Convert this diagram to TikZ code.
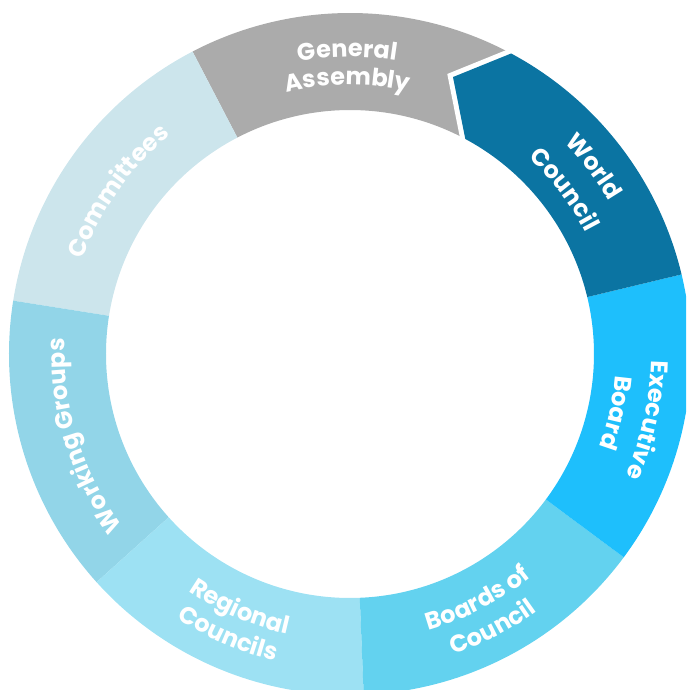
\documentclass[tikz,border=0pt]{standalone}
\usepackage{fontspec}
\setmainfont{Poppins}
\usetikzlibrary{decorations.text,calc}
\definecolor{cGA}{HTML}{ABABAB}
\definecolor{cWC}{HTML}{0B74A2}
\definecolor{cEB}{HTML}{1EBFFC}
\definecolor{cBC}{HTML}{63D2EF}
\definecolor{cRC}{HTML}{9DE1F3}
\definecolor{cWG}{HTML}{92D5E8}
\definecolor{cCM}{HTML}{CCE5EC}
\newcommand{\lblfmt}{\fontsize{24}{28}\selectfont\bfseries\color{white}}
% top label: reads clockwise, letters point outward
\newcommand{\toplbl}[3]{%
  \path[decorate,decoration={text along path,text align=center,text={|\lblfmt|#3}}]
    ({#1+45}:#2) arc[start angle={#1+45}, end angle={#1-45}, radius=#2];}
% bottom label: reads counter-clockwise, letters point inward
\newcommand{\botlbl}[3]{%
  \path[decorate,decoration={text along path,text align=center,text={|\lblfmt|#3}}]
    ({#1-45}:#2) arc[start angle={#1-45}, end angle={#1+45}, radius=#2];}
\newcommand{\ringseg}[3]{%
  \fill[#1] (#2:341) arc[start angle=#2, end angle=#3, radius=341]
    -- (#3:244) arc[start angle=#3, end angle=#2, radius=244] -- cycle;}
\begin{document}
\begin{tikzpicture}[x=1pt,y=1pt]
\useasboundingbox (-350,-336) rectangle (336,354);
\clip (-350,-336) rectangle (336,354);
% ring segments
\ringseg{cGA}{61.8}{117.5}
\ringseg{cCM}{117.5}{171}
\ringseg{cWG}{171}{222}
\ringseg{cRC}{222}{272.3}
\ringseg{cBC}{272.3}{323.4}
\ringseg{cEB}{323.4}{373.5}
% world council chevron
\coordinate (wcO) at (61.8:341);
\coordinate (wcT) at (69.6:295.5);
\coordinate (wcI) at (61.8:244);
\draw[white,line width=10pt,line join=miter]
  ($(wcO)!-0.25!(wcT)$) -- (wcT) -- ($(wcI)!-0.25!(wcT)$);
\fill[cWC] (wcO) arc[start angle=61.8, end angle=13.5, radius=341]
  -- (13.5:244) arc[start angle=13.5, end angle=61.8, radius=244]
  -- (wcT) -- cycle;
% labels
\toplbl{90.5}{297}{General}
\toplbl{90.5}{269}{Assembly}
\toplbl{37.5}{301}{World}
\toplbl{37.5}{265}{Council}
\toplbl{-12.5}{301}{Executive}
\toplbl{-12.5}{266}{Board}
\botlbl{297.5}{287}{Boards of}
\botlbl{297.5}{318}{Council}
\botlbl{246.5}{287}{Regional}
\botlbl{246.5}{316}{Councils}
\toplbl{197}{285}{Working Groups}
\toplbl{145}{283}{Committees}
\end{tikzpicture}
\end{document}
